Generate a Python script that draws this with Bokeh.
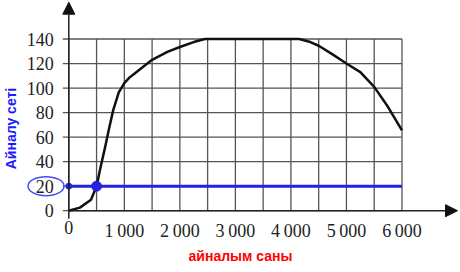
from math import pi
from bokeh.plotting import figure
from bokeh.models import Arrow, NormalHead, Label
from bokeh.core.properties import value
from bokeh.embed import file_html
from bokeh.resources import INLINE

# ---- data ----
revolutions = [0, 200, 400, 500, 575, 650, 725, 800, 900, 1000, 1090, 1175, 1300,
               1500, 1775, 2000, 2250, 2450, 4150, 4350, 4500, 4750, 5000, 5250,
               5500, 5750, 6000]
period = [0, 2.5, 9, 20, 36, 51, 67, 82, 96.5, 104, 108.5, 111.5, 116,
          123, 129.5, 133.5, 137.5, 140, 140, 137.5, 134.5, 127.5, 120, 113,
          101, 84.5, 65.5]

x_ticks = [0, 1000, 2000, 3000, 4000, 5000, 6000]
x_tick_labels = ["0", "1\u2009000", "2\u2009000", "3\u2009000", "4\u2009000", "5\u2009000", "6\u2009000"]
y_ticks = [0, 20, 40, 60, 80, 100, 120, 140]
y_tick_labels = ["0", "20", "40", "60", "80", "100", "120", "140"]
grid_x = [0, 500, 1000, 1500, 2000, 2500, 3000, 3500, 4000, 4500, 5000, 5500, 6000]
grid_y = [0, 20, 40, 60, 80, 100, 120, 140]

marked_level = 20
marked_x = 500
x_max = 6000
y_max = 140

y_title = "Айналу сеті"
x_title = "айналым саны"

# ---- figure ----
p = figure(width=460, height=272, output_backend="svg", toolbar_location=None,
           x_range=(-1230, 7054), y_range=(-50.4, 171.4),
           x_axis_type=None, y_axis_type=None, min_border=0)
p.outline_line_color = None
p.xgrid.visible = False
p.ygrid.visible = False

grid_color = "#555555"
p.segment(x0=grid_x, y0=[0] * len(grid_x), x1=grid_x, y1=[y_max] * len(grid_x),
          line_color=grid_color, line_width=1.3)
p.segment(x0=[-108] * len(grid_y), y0=grid_y, x1=[x_max] * len(grid_y), y1=grid_y,
          line_color=grid_color, line_width=1.3)

# axes with arrows
p.add_layout(Arrow(end=NormalHead(size=12, fill_color="#111111", line_color="#111111"),
                   x_start=0, y_start=0, x_end=7000, y_end=0,
                   line_color="#222222", line_width=1.5))
p.add_layout(Arrow(end=NormalHead(size=12, fill_color="#111111", line_color="#111111"),
                   x_start=0, y_start=-6.5, x_end=0, y_end=170,
                   line_color="#222222", line_width=1.5))

# tick labels (serif, as in the reference)
serif = value("Liberation Serif")
p.text(x=x_ticks, y=[0] * len(x_ticks), text=x_tick_labels,
       text_font=serif, text_font_size="18px", text_color="#222222",
       text_align="center", text_baseline="top", y_offset=10)
p.text(x=[0] * len(y_ticks), y=y_ticks, text=y_tick_labels,
       text_font=serif, text_font_size="18px", text_color="#222222",
       text_align="right", text_baseline="middle", x_offset=-15)

# curve
p.line(revolutions, period, line_color="#111111", line_width=2.5)

# blue helper line and markers
blue = "#2222e0"
p.line([0, x_max], [marked_level, marked_level], line_color=blue, line_width=3)
p.scatter([0], [marked_level], size=6, color=blue)
p.scatter([marked_x], [marked_level], size=10, color=blue)
p.ellipse(x=[-410], y=[marked_level], width=36, height=19,
          width_units="screen", height_units="screen",
          fill_color=None, line_color="#4a4af5", line_width=1.5)

# titles
p.add_layout(Label(x=10, y=144, x_units="screen", y_units="screen", text=y_title,
                   angle=pi / 2, text_align="center", text_baseline="middle",
                   text_color="#1a1aff", text_font="Arial",
                   text_font_style="bold", text_font_size="14px"))
p.add_layout(Label(x=240, y=17, x_units="screen", y_units="screen", text=x_title,
                   text_align="center", text_baseline="middle",
                   text_color="#ff0000", text_font="Arial",
                   text_font_style="bold", text_font_size="14px"))

open("out.html", "w").write(file_html(p, INLINE))
